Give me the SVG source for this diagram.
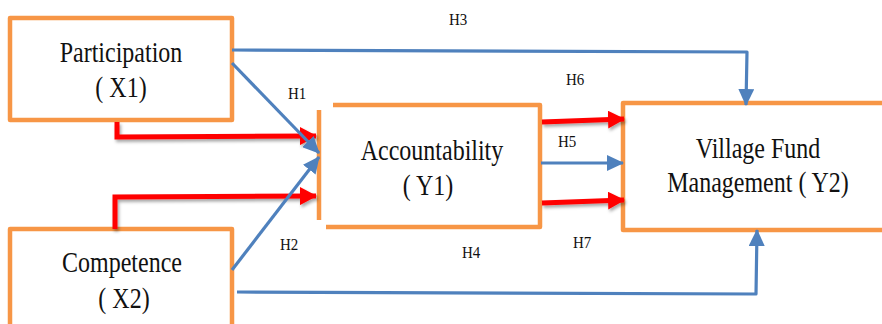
<svg xmlns="http://www.w3.org/2000/svg" width="882" height="324" viewBox="0 0 882 324">
<style>
.box{fill:#fff;stroke:#F79646;stroke-width:4.5;stroke-linejoin:round}
.edge{fill:none;stroke:#F79646;stroke-width:4.5;stroke-linejoin:round}
.t{font-family:"Liberation Serif","Times New Roman",serif;font-size:24px;fill:#111;text-anchor:middle}
.h{font-family:"Liberation Serif","Times New Roman",serif;font-size:15px;fill:#111}
.blue{fill:none;stroke:#4F81BD;stroke-width:3.2;stroke-linejoin:round}
.red{fill:none;stroke:#FF0000;stroke-width:5;stroke-linejoin:miter}
</style>
<defs>
<marker id="ab" markerUnits="userSpaceOnUse" markerWidth="18" markerHeight="16" viewBox="0 0 18 16" refX="16" refY="8" orient="auto">
<path d="M0,0 L17,8 L0,16 Z" fill="#4F81BD"/>
</marker>
<marker id="ar" markerUnits="userSpaceOnUse" markerWidth="18" markerHeight="18" viewBox="0 0 18 18" refX="16" refY="9" orient="auto">
<path d="M0,0 L17,9 L0,18 Z" fill="#FF0000"/>
</marker>
<filter id="sh" filterUnits="userSpaceOnUse" x="0" y="0" width="882" height="324">
<feDropShadow dx="1.5" dy="2.5" stdDeviation="1.5" flood-color="#000" flood-opacity="0.35"/>
</filter>
</defs>

<g id="x1">
<rect class="box" x="10" y="18" width="222" height="102"/>
<text class="t" transform="translate(121,62) scale(1,1.2)">Participation</text>
<text class="t" transform="translate(121,97) scale(1,1.2)">( X1)</text>
</g>

<g id="x2">
<rect class="box" x="10" y="229" width="222" height="110"/>
<text class="t" transform="translate(122,272) scale(1,1.2)">Competence</text>
<text class="t" transform="translate(124,308) scale(1,1.2)">( X2)</text>
</g>

<g id="y1">
<rect x="326" y="105" width="214" height="122" fill="#fff"/>
<path class="edge" d="M333,105 H540 V227 H326"/>
<line class="edge" x1="319" y1="110" x2="319" y2="220"/>
<text class="t" transform="translate(432,160) scale(1,1.2)">Accountability</text>
<text class="t" transform="translate(428,195) scale(1,1.2)">( Y1)</text>
</g>

<g id="y2">
<rect class="box" x="623" y="103" width="280" height="127"/>
<text class="t" transform="translate(758,158) scale(1,1.2)">Village Fund</text>
<text class="t" transform="translate(758,192) scale(1,1.2)">Management ( Y2)</text>
</g>

<g id="connectors">
<path class="red" filter="url(#sh)" marker-end="url(#ar)" d="M117,122 V137 L316,136"/>
<path class="red" filter="url(#sh)" marker-end="url(#ar)" d="M115,229 V197 L316,196"/>
<path class="red" filter="url(#sh)" marker-end="url(#ar)" d="M542,122 L624,119"/>
<path class="red" filter="url(#sh)" marker-end="url(#ar)" d="M542,203 L624,200"/>
<path class="blue" marker-end="url(#ab)" d="M232,63 L319,153"/>
<path class="blue" marker-end="url(#ab)" d="M232,270 L319,157"/>
<path class="blue" marker-end="url(#ab)" d="M232,50 L747,52 L746,105"/>
<path class="blue" marker-end="url(#ab)" d="M541,163 L623,163"/>
<path class="blue" marker-end="url(#ab)" d="M237,292 L756,294 L757,230"/>
</g>

<g id="labels">
<text class="h" transform="translate(288,99) scale(1,1.15)">H1</text>
<text class="h" transform="translate(280,250) scale(1,1.15)">H2</text>
<text class="h" transform="translate(449,25) scale(1,1.15)">H3</text>
<text class="h" transform="translate(462,258) scale(1,1.15)">H4</text>
<text class="h" transform="translate(558,147) scale(1,1.15)">H5</text>
<text class="h" transform="translate(566,85) scale(1,1.15)">H6</text>
<text class="h" transform="translate(573,248) scale(1,1.15)">H7</text>
</g>
</svg>
